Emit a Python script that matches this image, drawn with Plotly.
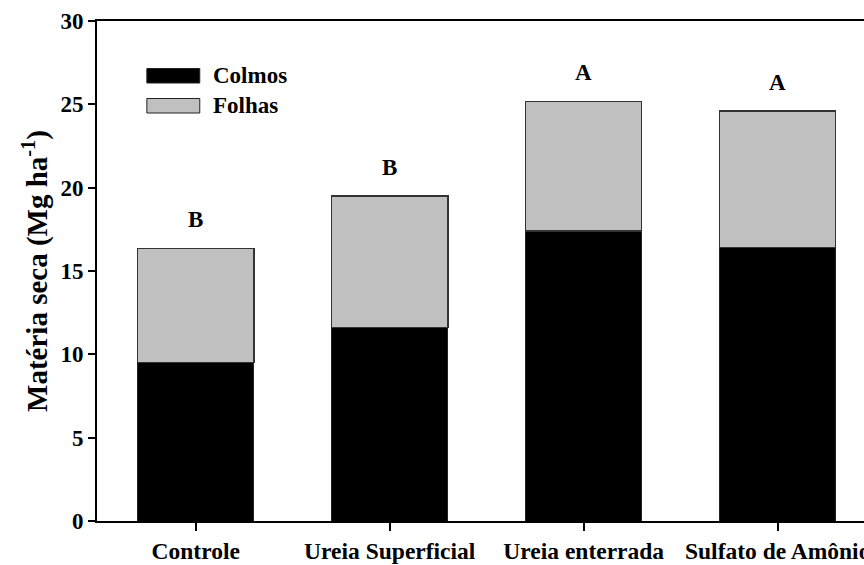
import plotly.graph_objects as go

categories = ["Controle", "Ureia Superficial", "Ureia enterrada", "Sulfato de Amônio"]
colmos = [9.5, 11.6, 17.4, 16.4]
folhas = [6.85, 7.9, 7.75, 8.2]
letters = ["B", "B", "A", "A"]
y_ticks = [0, 5, 10, 15, 20, 25, 30]

FONT = "Liberation Serif"
fs = 23

fig = go.Figure()
fig.add_trace(go.Bar(x=categories, y=colmos, name="Colmos", width=0.6,
                     marker=dict(color="black", line=dict(color="#222", width=1)),
                     showlegend=False))
fig.add_trace(go.Bar(x=categories, y=folhas, name="Folhas", width=0.6,
                     marker=dict(color="#c0c0c0", line=dict(color="#333", width=1.2)),
                     showlegend=False))

totals = [c + f for c, f in zip(colmos, folhas)]
for cat, tot, let in zip(categories, totals, letters):
    fig.add_annotation(x=cat, y=tot, text=f"<b>{let}</b>", showarrow=False,
                       yshift=29, yanchor="middle",
                       font=dict(family=FONT, size=fs, color="black"))

# legend (manual, wide swatches like the original)
legend_items = [("Colmos", "black"), ("Folhas", "#c0c0c0")]
for i, (name, col) in enumerate(legend_items):
    y0 = 0.905 - i * 0.06
    fig.add_shape(type="rect", xref="paper", yref="paper",
                  x0=0.065, x1=0.134, y0=y0 - 0.029, y1=y0,
                  fillcolor=col, line=dict(color="#222", width=1))
    fig.add_annotation(xref="paper", yref="paper", x=0.148, y=y0 - 0.0145,
                       text=f"<b>{name}</b>", showarrow=False,
                       xanchor="left", yanchor="middle",
                       font=dict(family=FONT, size=fs, color="black"))

fig.update_layout(
    width=864, height=565,
    margin=dict(l=97, r=0, t=21, b=44),
    barmode="stack",
    plot_bgcolor="white", paper_bgcolor="white",
    font=dict(family=FONT, size=fs, color="black"),
)
fig.update_xaxes(
    range=[-0.509, 3.445], automargin=False,
    showline=True, linecolor="black", linewidth=2, mirror=True,
    ticks="outside", ticklen=8, tickwidth=2, tickcolor="black",
    tickvals=categories, ticktext=[f"<b>{c}</b>" for c in categories],
    tickfont=dict(family=FONT, size=23.5), showgrid=False,
    ticklabelstandoff=0,
)
fig.update_yaxes(
    range=[0, 30], automargin=False,
    showline=True, linecolor="black", linewidth=2,
    ticks="outside", ticklen=7, tickwidth=2, tickcolor="black",
    tickvals=y_ticks, ticktext=[f"<b>{v}</b>" for v in y_ticks],
    tickfont=dict(family=FONT, size=fs), showgrid=False, zeroline=False,
    title=dict(text="<b>Matéria seca (Mg ha<sup>-1</sup>)</b>",
               font=dict(family=FONT, size=29), standoff=4),
)

fig.write_html("out.html")
